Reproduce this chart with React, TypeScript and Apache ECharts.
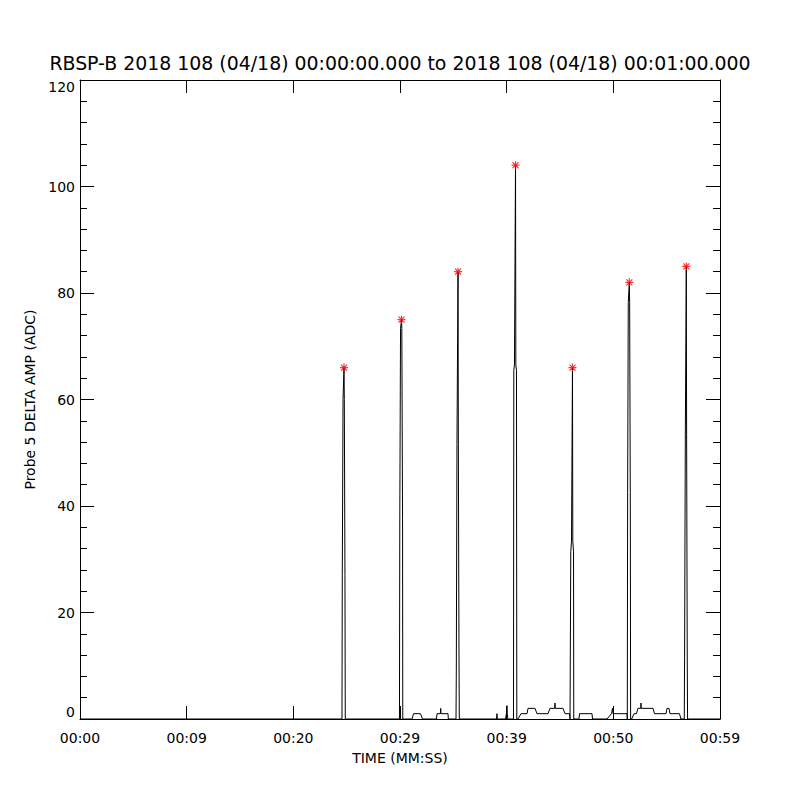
import React, { useEffect, useRef } from "react";
import * as echarts from "echarts";

const titleText = "RBSP-B 2018 108 (04/18) 00:00:00.000 to 2018 108 (04/18) 00:01:00.000";
const xTickLabels = ["00:00", "00:09", "00:20", "00:29", "00:39", "00:50", "00:59"];
const xName = "TIME (MM:SS)";
const yName = "Probe 5 DELTA AMP (ADC)";

// time (s) and amplitude (ADC) of the trace
const timeSec = [
  0, 24.56, 24.59, 24.66, 24.75, 24.78, 24.84, 24.87,
  29.95, 29.98, 30.05, 30.14, 30.17, 30.24, 30.26,
  31.13, 31.27, 31.92, 32.11,
  33.42, 33.47, 33.78, 33.82, 33.84, 34.5, 34.53,
  35.25, 35.28, 35.34, 35.44, 35.47, 35.53, 35.56,
  39.05, 39.09, 39.12,
  39.89, 39.98, 40.03, 40.06, 40.11,
  40.64, 40.67, 40.73, 40.83, 40.86, 40.92, 40.95,
  41.06, 41.34, 41.91, 42.0, 42.66, 42.84, 43.88, 44.06, 44.5, 44.53, 44.56, 45.28, 45.47, 45.89, 45.94,
  45.98, 46.01, 46.08, 46.17, 46.2, 46.27, 46.29,
  46.78, 46.83, 48.0, 48.05, 49.41, 49.83, 49.92, 49.97, 51.28,
  51.31, 51.34, 51.4, 51.5, 51.53, 51.59, 51.62,
  51.72, 51.94, 52.17, 52.31, 52.57, 52.59, 52.62, 53.72, 53.86, 54.94, 55.03, 55.22, 55.31, 56.2, 56.34,
  56.65, 56.68, 56.75, 56.84, 56.87, 56.93, 56.96,
  60,
];
const ampAdc = [
  0, 0, 27, 60, 66, 60, 27, 0,
  0, 37.6, 73.3, 75, 73.3, 37.6, 0,
  0, 1, 1, 0,
  0, 1, 1, 2, 1, 1, 0,
  0, 9.4, 51.5, 84, 51.5, 12.4, 0,
  0, 1, 0,
  0, 1, 2.5, 1, 0,
  0, 65.5, 66.5, 104, 66.5, 65.5, 0,
  0, 1, 1, 2, 2, 1, 1, 2, 2, 3, 2, 2, 1, 1, 0,
  0, 31.4, 33.4, 66, 33.4, 31.4, 0,
  0, 1, 1, 0, 0, 1, 2, 1, 1,
  0, 42.5, 78.2, 82, 78.2, 42.5, 0,
  0, 1, 1, 2, 2, 3, 2, 2, 1, 1, 2, 2, 1, 1, 0,
  0, 11.6, 53.5, 85, 53.5, 10.9, 0,
  0,
];

// peak markers
const peakTime = [24.75, 30.14, 35.44, 40.83, 46.17, 51.5, 56.84];
const peakAmp = [66, 75, 84, 104, 66, 82, 85];

const FONT = "DejaVu Sans";

export default function App() {
  const ref = useRef<HTMLDivElement>(null);
  useEffect(() => {
    if (!ref.current) return;
    const chart = echarts.init(ref.current, undefined, { renderer: "svg" });
    const black = "#000000";
    const baseAxisLine = { show: true, onZero: false, lineStyle: { color: black, width: 1 } };
    const option: any = {
      animation: false,
      backgroundColor: "#ffffff",
      title: {
        text: titleText,
        left: "center",
        top: 48,
        textStyle: { fontFamily: FONT, fontSize: 18.9, fontWeight: "normal", color: black },
      },
      grid: { left: 80, top: 80, right: 80, bottom: 81, containLabel: false },
      xAxis: [
        {
          type: "value",
          position: "bottom",
          min: 0,
          max: 60,
          interval: 10,
          axisLine: baseAxisLine,
          axisTick: { show: true, inside: true, length: 13, lineStyle: { color: black } },
          splitLine: { show: false },
          axisLabel: {
            show: true,
            margin: 12,
            color: black,
            fontFamily: FONT,
            fontSize: 14,
            formatter: (v: number) => xTickLabels[Math.round(v / 10)] ?? "",
          },
          name: xName,
          nameLocation: "middle",
          nameGap: 32,
          nameTextStyle: { fontFamily: FONT, fontSize: 14, color: black },
        },
        {
          type: "value",
          position: "top",
          min: 0,
          max: 60,
          interval: 10,
          axisLine: baseAxisLine,
          axisTick: { show: true, inside: true, length: 13, lineStyle: { color: black } },
          splitLine: { show: false },
          axisLabel: { show: false },
        },
      ],
      yAxis: [
        {
          type: "value",
          position: "left",
          min: 0,
          max: 120,
          interval: 20,
          axisLine: baseAxisLine,
          axisTick: { show: true, inside: true, length: 14, lineStyle: { color: black } },
          minorTick: { show: true, splitNumber: 5, length: 7, lineStyle: { color: black } },
          splitLine: { show: false },
          minorSplitLine: { show: false },
          axisLabel: {
            show: true,
            margin: 5,
            color: black,
            fontFamily: FONT,
            fontSize: 14,
            verticalAlignMinLabel: "bottom",
            verticalAlignMaxLabel: "top",
          },
          name: yName,
          nameLocation: "middle",
          nameGap: 42,
          nameRotate: 90,
          nameTextStyle: { fontFamily: FONT, fontSize: 14, color: black },
        },
        {
          type: "value",
          position: "right",
          min: 0,
          max: 120,
          interval: 20,
          axisLine: baseAxisLine,
          axisTick: { show: true, inside: true, length: 14, lineStyle: { color: black } },
          minorTick: { show: true, splitNumber: 5, length: 7, lineStyle: { color: black } },
          splitLine: { show: false },
          minorSplitLine: { show: false },
          axisLabel: { show: false },
        },
      ],
      series: [
        {
          type: "line",
          xAxisIndex: 0,
          yAxisIndex: 0,
          data: timeSec.map((t, i) => [t, ampAdc[i]]),
          showSymbol: false,
          symbol: "none",
          lineStyle: { color: black, width: 1 },
          emphasis: { disabled: true },
          silent: true,
          z: 2,
        },
        {
          type: "scatter",
          xAxisIndex: 0,
          yAxisIndex: 0,
          data: peakTime.map((t, i) => [t, peakAmp[i]]),
          symbol: "path://M0,-4L0,4M-4,0L4,0M-3,-3L3,3M-3,3L3,-3",
          symbolSize: 8,
          itemStyle: { color: "none", borderColor: "#ff0000", borderWidth: 1.2 },
          emphasis: { disabled: true },
          silent: true,
          z: 3,
        },
      ],
    };
    chart.setOption(option);
    return () => chart.dispose();
  }, []);
  return (
    <div
      ref={ref}
      style={{ position: "fixed", left: 0, top: 0, width: 800, height: 800, background: "#fff" }}
    />
  );
}
